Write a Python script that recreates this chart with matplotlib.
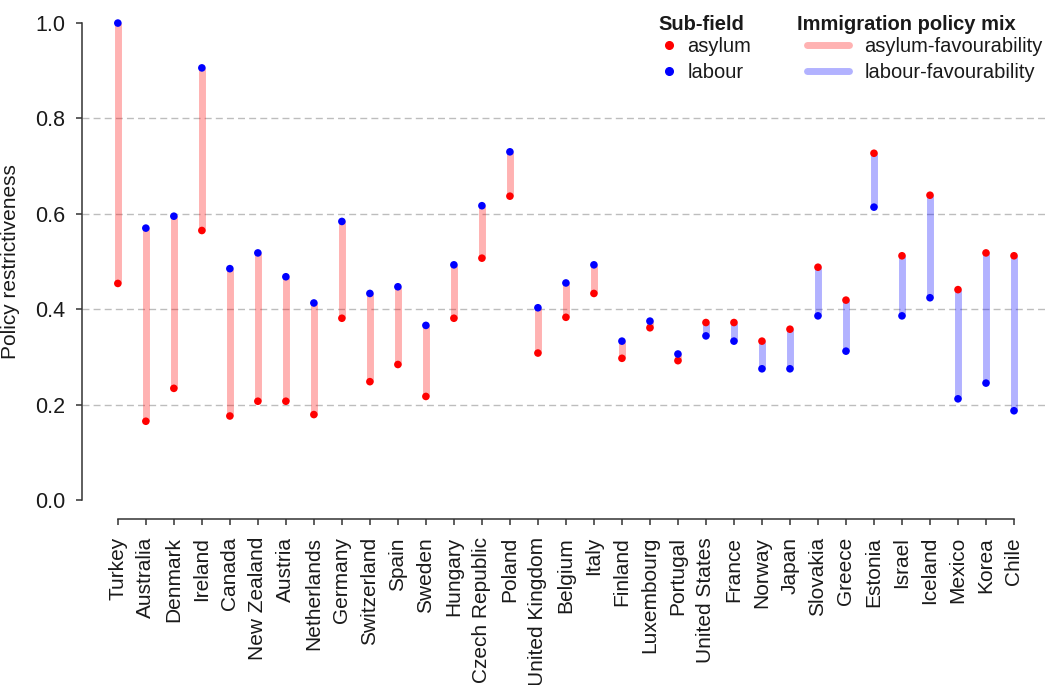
import matplotlib.pyplot as plt
from matplotlib.lines import Line2D
import numpy as np

plt.rcParams['font.family'] = ['Liberation Sans', 'DejaVu Sans']

countries = ['Turkey', 'Australia', 'Denmark', 'Ireland', 'Canada', 'New Zealand',
             'Austria', 'Netherlands', 'Germany', 'Switzerland', 'Spain', 'Sweden',
             'Hungary', 'Czech Republic', 'Poland', 'United Kingdom', 'Belgium', 'Italy',
             'Finland', 'Luxembourg', 'Portugal', 'United States', 'France', 'Norway',
             'Japan', 'Slovakia', 'Greece', 'Estonia', 'Israel', 'Iceland', 'Mexico',
             'Korea', 'Chile']
asylum = [0.454, 0.165, 0.234, 0.565, 0.176, 0.207, 0.207, 0.179, 0.381, 0.248, 0.284,
          0.217, 0.381, 0.507, 0.637, 0.308, 0.383, 0.433, 0.297, 0.361, 0.292, 0.372,
          0.372, 0.333, 0.358, 0.488, 0.419, 0.727, 0.512, 0.639, 0.441, 0.518, 0.512]
labour = [1.000, 0.570, 0.595, 0.906, 0.485, 0.518, 0.468, 0.413, 0.584, 0.433, 0.447,
          0.366, 0.493, 0.617, 0.730, 0.403, 0.455, 0.493, 0.333, 0.375, 0.306, 0.344,
          0.333, 0.275, 0.275, 0.386, 0.312, 0.614, 0.386, 0.424, 0.212, 0.245, 0.187]

pink = (1.0, 0.0, 0.0, 0.3)
lilac = (0.0, 0.0, 1.0, 0.3)
axcol = '#333333'
txtcol = '#1a1a1a'
W, H = 1045, 685

fig = plt.figure(figsize=(W / 100, H / 100), dpi=100)
ax = fig.add_axes([82 / W, 1 - 519 / H, 1 - 82 / W, (519 - 4) / H])

x = np.arange(1, len(countries) + 1)
ax.set_xlim(-0.28, 34.107)
ax.set_ylim(-0.04, 1.04)

for yv in [0.2, 0.4, 0.6, 0.8]:
    ax.axhline(yv, color='#bdbdbd', lw=1.0, linestyle=(0, (5, 3)), zorder=0)

# segment between the two sub-fields, coloured by which one is less restrictive
for xi, a, l in zip(x, asylum, labour):
    col = pink if l > a else lilac
    ax.plot([xi, xi], [a, l], color=col, lw=5, solid_capstyle='butt', zorder=1)

ax.scatter(x, asylum, s=30, color='#ff0000', edgecolors='none', zorder=3)
ax.scatter(x, labour, s=30, color='#0000ff', edgecolors='none', zorder=3)

for s in ['top', 'right']:
    ax.spines[s].set_visible(False)
ax.spines['left'].set_bounds(0, 1)
ax.spines['bottom'].set_bounds(1, len(countries))
for s in ['left', 'bottom']:
    ax.spines[s].set_color(axcol)
    ax.spines[s].set_linewidth(1.1)

ax.set_yticks([0.0, 0.2, 0.4, 0.6, 0.8, 1.0])
ax.set_yticklabels(['0.0', '0.2', '0.4', '0.6', '0.8', '1.0'])
ax.set_xticks(x)
ax.set_xticklabels(countries, rotation=90)
ax.tick_params(axis='y', color=axcol, width=1.1, length=4, labelsize=15.5,
               labelcolor=txtcol, pad=8)
ax.tick_params(axis='x', color=axcol, width=1.1, length=4, labelsize=15,
               labelcolor=txtcol, pad=9)
ax.set_ylabel('Policy restrictiveness', fontsize=15, color=txtcol)
ax.yaxis.set_label_coords(-0.064, 0.5)

# legends (titles drawn separately so they sit left of the keys)
fig.text(658 / W, 1 - 24 / H, 'Sub-field', fontsize=14.5, fontweight='bold',
         color=txtcol, ha='left', va='center')
fig.text(797 / W, 1 - 24 / H, 'Immigration policy mix', fontsize=14.5,
         fontweight='bold', color=txtcol, ha='left', va='center')

h1 = [Line2D([], [], marker='o', ls='none', color='#ff0000', markersize=5.5),
      Line2D([], [], marker='o', ls='none', color='#0000ff', markersize=5.5)]
leg1 = fig.legend(h1, ['asylum', 'labour'], loc='upper left',
                  bbox_to_anchor=(661 / W, 1 - 37 / H), frameon=False,
                  fontsize=14.5, handlelength=0.8, handletextpad=0.5,
                  labelspacing=0.35, borderpad=0, borderaxespad=0)
h2 = [Line2D([], [], color=pink, lw=5, solid_capstyle='round'),
      Line2D([], [], color=lilac, lw=5, solid_capstyle='round')]
leg2 = fig.legend(h2, ['asylum-favourability', 'labour-favourability'],
                  loc='upper left', bbox_to_anchor=(807 / W, 1 - 37 / H),
                  frameon=False, fontsize=14.5, handlelength=2.1,
                  handletextpad=0.75, labelspacing=0.35, borderpad=0,
                  borderaxespad=0)
for lg in (leg1, leg2):
    for t in lg.get_texts():
        t.set_color(txtcol)

fig.savefig('out.png', dpi=100)
